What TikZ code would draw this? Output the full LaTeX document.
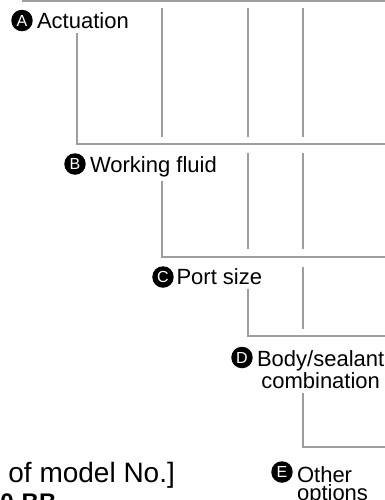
\documentclass[tikz,border=0pt]{standalone}
\usepackage{fontspec}
\setmainfont{Liberation Sans}
\usetikzlibrary{positioning, calc}
\definecolor{leadgray}{RGB}{158,158,158}

\begin{document}
\begin{tikzpicture}[
        x=0.5pt, y=-0.5pt,
        badge/.style={circle, fill=black, text=white, inner sep=0pt, minimum size=10.75pt, font=\fontsize{8}{8}\selectfont},
        itemtext/.style={inner xsep=0pt, inner ysep=2pt, anchor=base west, font=\fontsize{11}{11}\selectfont},
        lead/.style={draw=leadgray, line width=1.1pt}
    ]
        \useasboundingbox (0,0) rectangle (385,500);

        % item badges and texts (base of a two-line text = its last line)
        \node[badge] (bA) at (22,20.5) {A};
        \node[itemtext] (tA) at ($(bA.east)+(3.5,7.5)$) {Actuation};
        \node[badge] (bB) at (75,164) {B};
        \node[itemtext] (tB) at ($(bB.east)+(3.5,8)$) {Working fluid};
        \node[badge] (bC) at (163,277) {C};
        \node[itemtext] (tC) at ($(bC.east)+(2,7)$) {Port size};
        \node[badge] (bD) at (242,357.5) {D};
        \node[itemtext, align=center] (tD) at ($(bD.east)+(3.5,31)$) {Body/sealant\\combination};
        \node[badge] (bE) at (282,472) {E};
        \node[itemtext, align=left] (tE) at ($(bE.east)+(3.5,28)$) {Other\\[-2pt]options};

        \node[itemtext, font=\fontsize{14}{14}\selectfont] (example) at (8,482) {of model No.]};
        \node[itemtext, font=\bfseries\fontsize{12}{12}\selectfont] (code) at (0,510) {0-BB};

        % lead lines
        \coordinate (cornT) at (22,1);
        \coordinate (endT) at (386,1);
        \coordinate (colA) at (77,0);
        \coordinate (endA) at (386,144);
        \coordinate (colB) at (162,0);
        \coordinate (endB) at (386,257);
        \coordinate (colC) at (248,0);
        \coordinate (endC) at (386,336);
        \coordinate (colD) at (303,0);
        \coordinate (endD) at (386,447);

        \draw[lead] (cornT) -- (endT);
        \draw[lead] (tA.south -| colA) |- (endA);
        \draw[lead] (tB.south -| colB) |- (endB);
        \draw[lead] (tC.south -| colC) |- (endC);
        \draw[lead] (tD.south -| colD) |- (endD);

        % broken verticals passing the bends
        \foreach \x/\ytop/\ybot [count=\i] in {162/8/137, 248/8/137, 303/8/137, 248/153/249, 303/153/249, 303/267/329}{
            \coordinate (up\i) at (\x,\ytop);
            \coordinate (dn\i) at (\x,\ybot);
            \draw[lead] (up\i) -- (dn\i);
        }
    \end{tikzpicture}
\end{document}
